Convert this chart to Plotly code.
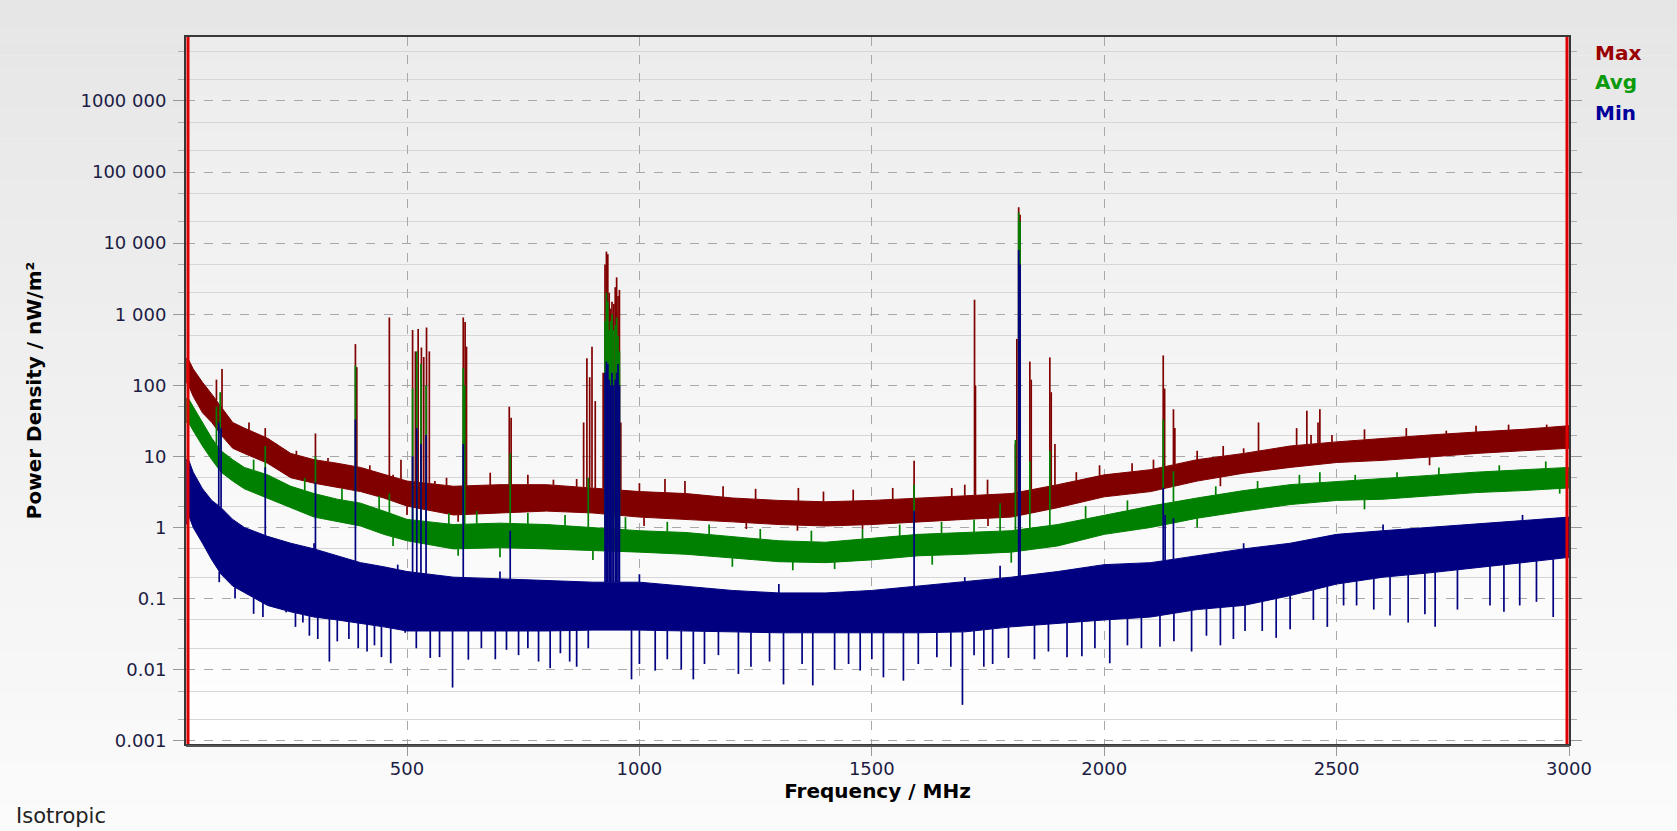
import numpy as np
import plotly.graph_objects as go

# ---------------- data ----------------
BAND_F = [25, 30, 40, 60, 80, 100, 125, 150, 200, 250, 300, 350, 400, 450, 500,
          600, 700, 800, 900, 1000, 1100, 1200, 1300, 1400, 1500, 1600, 1700,
          1800, 1900, 2000, 2100, 2200, 2300, 2400, 2500, 2600, 2700, 2800, 2900, 3000]

MAX_UP = [240, 230, 170, 110, 75, 50, 30, 25, 18, 11, 9, 8, 7, 5.6, 4.5,
          3.8, 4.0, 4.0, 3.6, 3.2, 3.0, 2.6, 2.4, 2.3, 2.4, 2.6, 2.8,
          3.0, 4.0, 5.5, 6.5, 9, 11, 14, 16, 18, 20, 22, 24, 27]
MAX_LO = [110, 100, 70, 41, 30, 20, 13, 11, 8, 5, 4.2, 3.7, 3.2, 2.6, 2.0,
          1.5, 1.6, 1.7, 1.6, 1.4, 1.3, 1.2, 1.1, 1.05, 1.1, 1.2, 1.3,
          1.4, 1.9, 2.7, 3.2, 4.5, 5.8, 7, 8.2, 8.8, 9.8, 11, 12, 13]

AVG_UP = [65, 65, 50, 30, 18, 12, 9, 7, 5.5, 3.8, 3.0, 2.5, 2.2, 1.7, 1.3,
          1.1, 1.15, 1.1, 1.0, 0.9, 0.85, 0.75, 0.65, 0.62, 0.7, 0.8, 0.85,
          0.9, 1.1, 1.5, 2.0, 2.6, 3.3, 4.0, 4.4, 4.8, 5.4, 6.0, 6.5, 7.0]
AVG_LO = [30, 30, 23, 14, 9, 6, 4.5, 3.5, 2.6, 1.9, 1.4, 1.2, 1.05, 0.8, 0.65,
          0.5, 0.52, 0.5, 0.48, 0.45, 0.42, 0.37, 0.33, 0.32, 0.35, 0.4, 0.42,
          0.45, 0.55, 0.8, 1.0, 1.35, 1.7, 2.1, 2.4, 2.5, 2.8, 3.1, 3.3, 3.6]

MIN_UP = [9, 9, 6, 3.5, 2.4, 1.9, 1.3, 1.0, 0.75, 0.6, 0.5, 0.4, 0.32, 0.28, 0.24,
          0.2, 0.19, 0.18, 0.17, 0.17, 0.15, 0.13, 0.12, 0.12, 0.13, 0.15, 0.17,
          0.2, 0.24, 0.3, 0.32, 0.4, 0.5, 0.6, 0.8, 0.9, 1.0, 1.1, 1.25, 1.4]
MIN_LO = [1.1, 1.5, 1.0, 0.6, 0.35, 0.22, 0.15, 0.12, 0.08, 0.065, 0.055, 0.05, 0.045, 0.04, 0.035,
          0.035, 0.035, 0.035, 0.036, 0.036, 0.035, 0.034, 0.033, 0.033, 0.033, 0.033, 0.034,
          0.04, 0.045, 0.05, 0.055, 0.07, 0.08, 0.11, 0.16, 0.2, 0.23, 0.27, 0.32, 0.38]

# narrow emission lines (frequency MHz, peak nW/m²)
MAX_SPK_F = [90, 102, 195, 303, 389, 392, 462, 487, 512, 518, 524, 531, 536, 542, 548,
             621, 625, 628, 720, 724, 880, 887, 893, 898, 905,
             922, 926, 929, 932, 935, 938, 941, 945, 948, 951, 954, 957, 960,
             1591, 1721, 1723, 1749, 1809, 1812, 1816, 1819, 1840, 1843, 1883, 1886, 1894,
             2127, 2130, 2149, 2152, 2332, 2436, 2445, 2460, 2464]
MAX_SPK_V = [120, 170, 25, 21, 380, 180, 900, 9, 600, 300, 620, 340, 250, 650, 300,
             900, 780, 350, 50, 35, 30, 240, 130, 350, 60,
             150, 5000, 7600, 7000, 2000, 1200, 1500, 1400, 2400, 3300, 1800, 2200, 30,
             8.7, 1600, 100, 4.7, 15, 450, 32000, 25000, 216, 120, 247, 80, 15,
             263, 90, 46, 25, 30, 44, 20, 30, 46]

AVG_SPK_F = [90, 98, 195, 303, 389, 462, 512, 521, 530, 541, 621, 624, 722, 890,
             926, 929, 932, 935, 938, 941, 944, 948, 951, 954, 957,
             1591, 1776, 1809, 1816, 1819, 1840, 1883, 2127, 2149, 2464]
AVG_SPK_V = [50, 80, 14, 10, 190, 3, 90, 300, 200, 100, 175, 100, 11, 5,
             800, 2000, 1500, 600, 800, 1000, 600, 700, 900, 500, 300,
             4, 2.2, 17, 27000, 20000, 8.6, 12, 33, 6.2, 6]

MIN_SPK_F = [95, 100, 195, 303, 389, 512, 521, 530, 541, 621, 722,
             926, 929, 932, 935, 938, 941, 944, 948, 951, 954, 957,
             1591, 1776, 1816, 1819, 2127, 2131, 2149]
MIN_SPK_V = [30, 25, 7, 4.3, 33, 10, 25, 15, 20, 15, 0.9,
             150, 216, 200, 120, 100, 150, 100, 120, 150, 200, 100,
             1.7, 0.29, 8000, 5000, 3.6, 1.5, 1.35]

# small upward noise excursions above each band
MAX_UPN_F = [160, 218, 262, 330, 420, 470, 560, 585, 679, 760, 815, 865, 1000, 1055, 1098,
             1180, 1250, 1342, 1396, 1460, 1545, 1672, 1700, 1940, 1990, 2060, 2106, 2200,
             2256, 2300, 2414, 2490, 2560, 2650, 2736, 2800, 2870, 2952]
MAX_UPN_V = [30, 14, 12, 9.5, 7.5, 5.5, 4.5, 5, 5.9, 5.5, 4.7, 4.8, 4.2, 4.8, 4.5,
             3.8, 3.5, 3.6, 3.2, 3.4, 3.6, 3.6, 4, 6, 7.5, 8, 9, 12,
             14, 13, 25, 20, 24, 25, 23, 27, 28, 28]
AVG_UPN_F = [170, 280, 360, 440, 590, 650, 760, 840, 970, 1060, 1150, 1260, 1370, 1480,
             1560, 1650, 1720, 1960, 2050, 2240, 2330, 2420, 2540, 2630, 2720, 2850, 2950]
AVG_UPN_V = [9, 5, 3.5, 2.8, 1.6, 1.7, 1.6, 1.5, 1.4, 1.2, 1.1, 0.95, 0.9, 0.95,
             1.1, 1.2, 1.3, 2, 2.4, 3.8, 4.5, 5.5, 5.5, 6, 7, 7.5, 8.5]
MIN_UPN_F = [300, 480, 700, 1000, 1300, 1700, 2300, 2600, 2900]
MIN_UPN_V = [0.6, 0.3, 0.24, 0.22, 0.16, 0.2, 0.6, 1.1, 1.5]

# downward noise excursions below each band
MAX_DIP_F = [500, 610, 1010, 1230, 1340, 1480, 1750, 2250, 2700]
MAX_DIP_V = [1.5, 1.2, 1.05, 0.95, 0.9, 0.95, 1.05, 3.8, 7.5]
AVG_DIP_F = [470, 610, 700, 900, 1200, 1330, 1420, 1630, 1800, 2200, 2560, 2980]
AVG_DIP_V = [0.55, 0.4, 0.38, 0.35, 0.28, 0.25, 0.26, 0.3, 0.32, 1.0, 1.8, 3]
MIN_DIP_F = [96, 130, 170, 190, 215, 240, 260, 276, 290, 308, 333, 350, 375, 395, 414, 430, 445,
             465, 496, 520, 550, 570, 598, 632, 660, 690, 714, 740, 760, 783, 808, 830, 850,
             865, 890, 983, 1000, 1034, 1060, 1090, 1116, 1140, 1170, 1213, 1240, 1280, 1310,
             1350, 1373, 1420, 1450, 1475, 1500, 1525, 1568, 1600, 1640, 1670, 1695, 1720,
             1741, 1760, 1794, 1850, 1880, 1920, 1952, 1980, 2012, 2050, 2080, 2120, 2150,
             2188, 2220, 2250, 2278, 2303, 2340, 2370, 2400, 2450, 2480, 2515, 2543, 2580,
             2615, 2654, 2690, 2712, 2760, 2830, 2860, 2894, 2930, 2966]
MIN_DIP_V = [0.17, 0.1, 0.061, 0.055, 0.11, 0.064, 0.04, 0.046, 0.03, 0.027, 0.013, 0.025,
             0.027, 0.02, 0.018, 0.022, 0.015, 0.0123, 0.033, 0.02, 0.0146, 0.015, 0.0056,
             0.0138, 0.02, 0.014, 0.019, 0.016, 0.02, 0.013, 0.0105, 0.017, 0.013, 0.011,
             0.02, 0.0073, 0.012, 0.0097, 0.014, 0.01, 0.0073, 0.012, 0.016, 0.0087, 0.011,
             0.013, 0.0062, 0.012, 0.006, 0.01, 0.012, 0.0097, 0.014, 0.0078, 0.007, 0.012,
             0.015, 0.011, 0.0032, 0.016, 0.011, 0.012, 0.0146, 0.014, 0.018, 0.015, 0.0154,
             0.02, 0.0123, 0.022, 0.02, 0.021, 0.025, 0.018, 0.03, 0.022, 0.027, 0.035,
             0.035, 0.028, 0.037, 0.05, 0.04, 0.08, 0.08, 0.07, 0.058, 0.046, 0.06, 0.04,
             0.07, 0.08, 0.065, 0.08, 0.09, 0.055]

Y_TICKS = [0.001, 0.01, 0.1, 1, 10, 100, 1000, 10000, 100000, 1000000]
Y_TICKTEXT = ["0.001", "0.01", "0.1", "1", "10", "100", "1 000", "10 000", "100 000", "1000 000"]
X_TICKS = [500, 1000, 1500, 2000, 2500, 3000]

SERIES = [
    ("Max", "#800000", "#9a0000", MAX_UP, MAX_LO, MAX_SPK_F, MAX_SPK_V,
     MAX_UPN_F, MAX_UPN_V, MAX_DIP_F, MAX_DIP_V),
    ("Avg", "#008000", "#0a9a0a", AVG_UP, AVG_LO, AVG_SPK_F, AVG_SPK_V,
     AVG_UPN_F, AVG_UPN_V, AVG_DIP_F, AVG_DIP_V),
    ("Min", "#000080", "#00009a", MIN_UP, MIN_LO, MIN_SPK_F, MIN_SPK_V,
     MIN_UPN_F, MIN_UPN_V, MIN_DIP_F, MIN_DIP_V),
]

# ---------------- figure ----------------
W, H = 1677, 831
ML, MR, MT, MB = 186, 108, 37, 87
PW, PH = W - ML - MR, H - MT - MB

fig = go.Figure()

band_f = np.array(BAND_F, dtype=float)


def edge(values, f):
    return 10 ** np.interp(np.array(f, dtype=float), band_f,
                           np.log10(np.array(values, dtype=float)))


def segments(freqs, bases, tops):
    xs, ys = [], []
    for f, b, v in zip(freqs, bases, tops):
        xs += [f, f, None]
        ys += [float(b), v, None]
    return xs, ys


for name, col, _, up, lo, sf, sv, nf, nv, df, dv in SERIES:
    # noise band
    fig.add_trace(go.Scatter(
        x=BAND_F + BAND_F[::-1], y=list(up) + list(lo)[::-1],
        mode="lines", fill="toself", fillcolor=col,
        line=dict(color=col, width=1), hoverinfo="skip", showlegend=False, name=name))
    # noise excursions + emission lines
    x1, y1 = segments(nf, edge(up, nf), nv)
    x2, y2 = segments(df, edge(lo, df), dv)
    x3, y3 = segments(sf, edge(up, sf), sv)
    fig.add_trace(go.Scatter(
        x=x1 + x2 + x3, y=y1 + y2 + y3, mode="lines", line=dict(color=col, width=1.7),
        connectgaps=False, hoverinfo="skip", showlegend=False, name=name))

# background gradients (figure and plot area)
shapes = []
x0p, x1p = -ML / PW, (W - ML) / PW
n = 60
for i in range(n):
    ya = (H - MB - (i * H / n)) / PH
    yb = (H - MB - ((i + 1) * H / n)) / PH
    t = i / (n - 1)
    g = int(round(230 + (251 - 230) * t))
    shapes.append(dict(type="rect", xref="paper", yref="paper", x0=x0p, x1=x1p,
                       y0=yb, y1=ya, fillcolor=f"rgb({g},{g},{g})",
                       line=dict(width=0), layer="below"))
for i in range(n):
    ya = 1 - i / n
    yb = 1 - (i + 1) / n
    t = i / (n - 1)
    g = int(round(236 + (255 - 236) * t))
    shapes.append(dict(type="rect", xref="paper", yref="paper", x0=0, x1=1,
                       y0=yb, y1=ya, fillcolor=f"rgb({g},{g},{g})",
                       line=dict(width=0), layer="below"))
# red cursor lines at both ends of the span
for xp in (2 / PW, 1 - 2 / PW):
    shapes.append(dict(type="line", xref="paper", yref="paper", x0=xp, x1=xp,
                       y0=0, y1=1, line=dict(color="#e00000", width=3), layer="above"))
# heavier bottom frame line
shapes.append(dict(type="line", xref="paper", yref="paper", x0=0, x1=1, y0=-2 / PH, y1=-2 / PH,
                   line=dict(color="#555555", width=2), layer="above"))

minor_vals = [m * 10 ** e for e in range(-3, 7) for m in (2, 5)]

tick_font = dict(family="DejaVu Sans", size=18, color="#1c1c44")
title_font = dict(family="DejaVu Sans", size=20, color="#000000", weight="bold")

fig.update_layout(
    width=W, height=H, autosize=False,
    margin=dict(l=ML, r=MR, t=MT, b=MB, pad=0),
    paper_bgcolor="#f2f2f2", plot_bgcolor="rgba(0,0,0,0)",
    showlegend=False,
    shapes=shapes,
    xaxis=dict(
        range=[24.5, 3000], tickvals=X_TICKS, ticktext=[str(v) for v in X_TICKS],
        showgrid=True, gridcolor="#a8a8a8", griddash="dash", gridwidth=1,
        zeroline=False, showline=True, linecolor="#383838", linewidth=2, mirror=True,
        ticks="outside", ticklen=10, tickcolor="#999999", tickwidth=1,
        tickfont=tick_font, automargin=False, ticklabelstandoff=-3,
        title=dict(text="Frequency / MHz", font=title_font, standoff=6),
    ),
    yaxis=dict(
        type="log", range=[-3.046, 6.9], tickvals=Y_TICKS, ticktext=Y_TICKTEXT,
        showgrid=True, gridcolor="#a8a8a8", griddash="dash", gridwidth=1,
        zeroline=False, showline=True, linecolor="#383838", linewidth=2, mirror="ticks",
        ticks="outside", ticklen=11, tickcolor="#999999", tickwidth=1,
        tickfont=tick_font, automargin=False, ticklabelstandoff=3,
        minor=dict(tickvals=minor_vals, showgrid=True, gridcolor="#d6d6d6", gridwidth=1,
                   griddash="solid", ticks="outside", ticklen=6, tickcolor="#b0b0b0"),
        title=dict(text="Power Density / nW/m²", font=title_font, standoff=34),
    ),
)

# legend as coloured labels
for (name, _, lcol, *_), yp in zip(SERIES, [(H - MB - 53) / PH, (H - MB - 82) / PH, (H - MB - 113) / PH]):
    fig.add_annotation(text=f"<b>{name}</b>", xref="paper", yref="paper",
                       x=(1593 - ML) / PW, y=yp, xanchor="left", yanchor="middle",
                       showarrow=False, font=dict(family="DejaVu Sans", size=20, color=lcol))

fig.add_annotation(text="Isotropic", xref="paper", yref="paper",
                   x=(14 - ML) / PW, y=(H - MB - 816) / PH, xanchor="left", yanchor="middle",
                   showarrow=False, font=dict(family="DejaVu Sans", size=21, color="#222222"))

fig.write_html("out.html", config={"displayModeBar": False},
               post_script="document.body.style.margin='0px';")
